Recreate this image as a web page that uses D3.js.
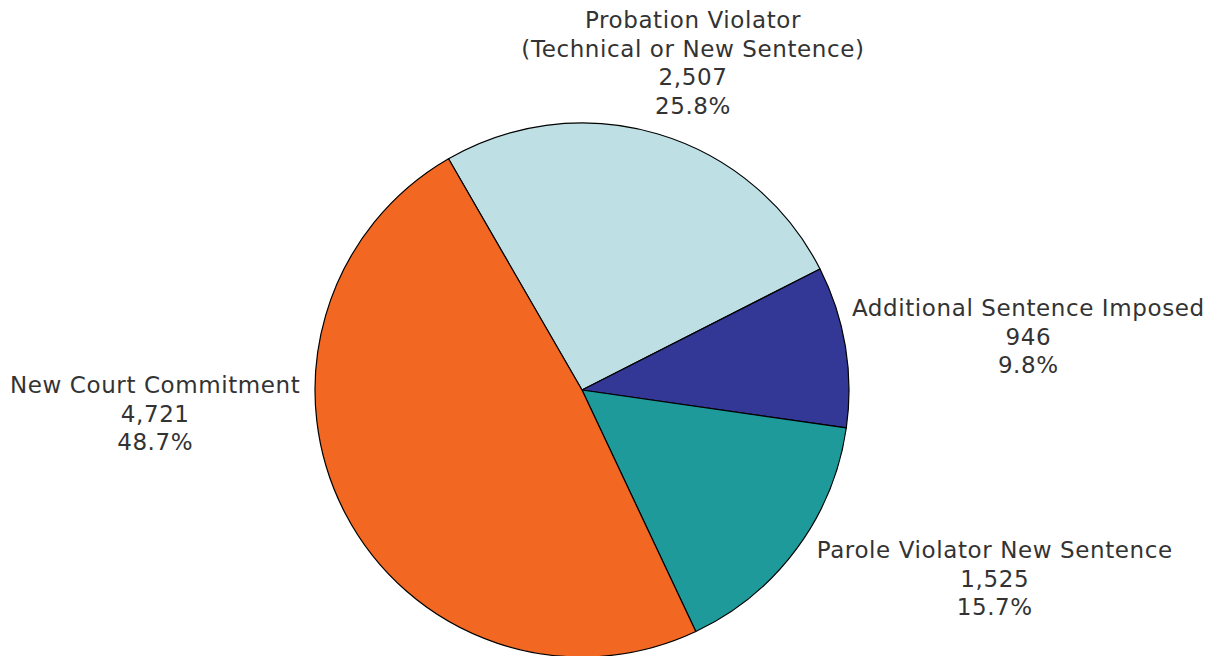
<!DOCTYPE html>
<html lang="en">
<head>
<meta charset="UTF-8">
<title>Admissions by type</title>
<style>
  body { margin: 0; background: #fff; }
  text { font-family: "DejaVu Sans", Verdana, sans-serif; fill: #333; letter-spacing: 0.6px; }
</style>
</head>
<body>
<script src="https://d3js.org/d3.v7.min.js"></script>
<script>
// data
const categories = [
    ['Probation Violator', '(Technical or New Sentence)'],
    ['Additional Sentence Imposed'],
    ['Parole Violator New Sentence'],
    ['New Court Commitment']
];
const counts = [2507, 946, 1525, 4721];
const colors = ['#bee0e4', '#333795', '#1e9a9a', '#f26722'];

const width = 1217, height = 656;
const cx = 582, cy = 390, radius = 267;
const fontSize = 23, lineH = 28.5;

// where each label block sits, relative to the rim point at mid-angle
const placement = [
    { align: 'middle', dx: 35, dy: -71.5 },
    { align: 'start', dx: 6.5, dy: -10 },
    { align: 'start', dx: 20, dy: 30 },
    { align: 'end', dx: -45, dy: -100.5 }
];

const svg = d3.select('body').append('svg')
    .attr('width', width)
    .attr('height', height);

const total = d3.sum(counts);
const startA = -30 * Math.PI / 180;

const pie = d3.pie()
    .sort(null)
    .startAngle(startA)
    .endAngle(startA + 2 * Math.PI);

const arcs = pie(counts);
const arc = d3.arc().innerRadius(0).outerRadius(radius);

const g = svg.append('g').attr('transform', `translate(${cx},${cy})`);

g.selectAll('path')
    .data(arcs)
    .join('path')
    .attr('d', arc)
    .attr('fill', (d, i) => colors[i])
    .attr('stroke', '#000')
    .attr('stroke-width', 1.2)
    .attr('stroke-linejoin', 'round');

const fmt = d3.format(',');
const pct = d3.format('.1%');

arcs.forEach((d, i) => {
    const mid = (d.startAngle + d.endAngle) / 2;
    const px = radius * Math.sin(mid), py = -radius * Math.cos(mid);
    const lines = categories[i].concat([fmt(d.value), pct(d.value / total)]);
    const p = placement[i];

    const t = g.append('text')
        .attr('font-size', fontSize)
        .attr('text-anchor', 'middle');

    lines.forEach((s, j) => {
        t.append('tspan').attr('x', 0).attr('y', j * lineH).text(s);
    });

    // block width = widest line
    let w = 0;
    t.selectAll('tspan').each(function () { w = Math.max(w, this.getComputedTextLength()); });

    let bx = px + p.dx;
    if (p.align === 'start') bx += w / 2;
    if (p.align === 'end') bx -= w / 2;
    const blockH = (lines.length - 1) * lineH;
    const by = py + p.dy - blockH / 2 + fontSize * 0.36;

    t.attr('transform', `translate(${bx},${by})`);
});
</script>
</body>
</html>
